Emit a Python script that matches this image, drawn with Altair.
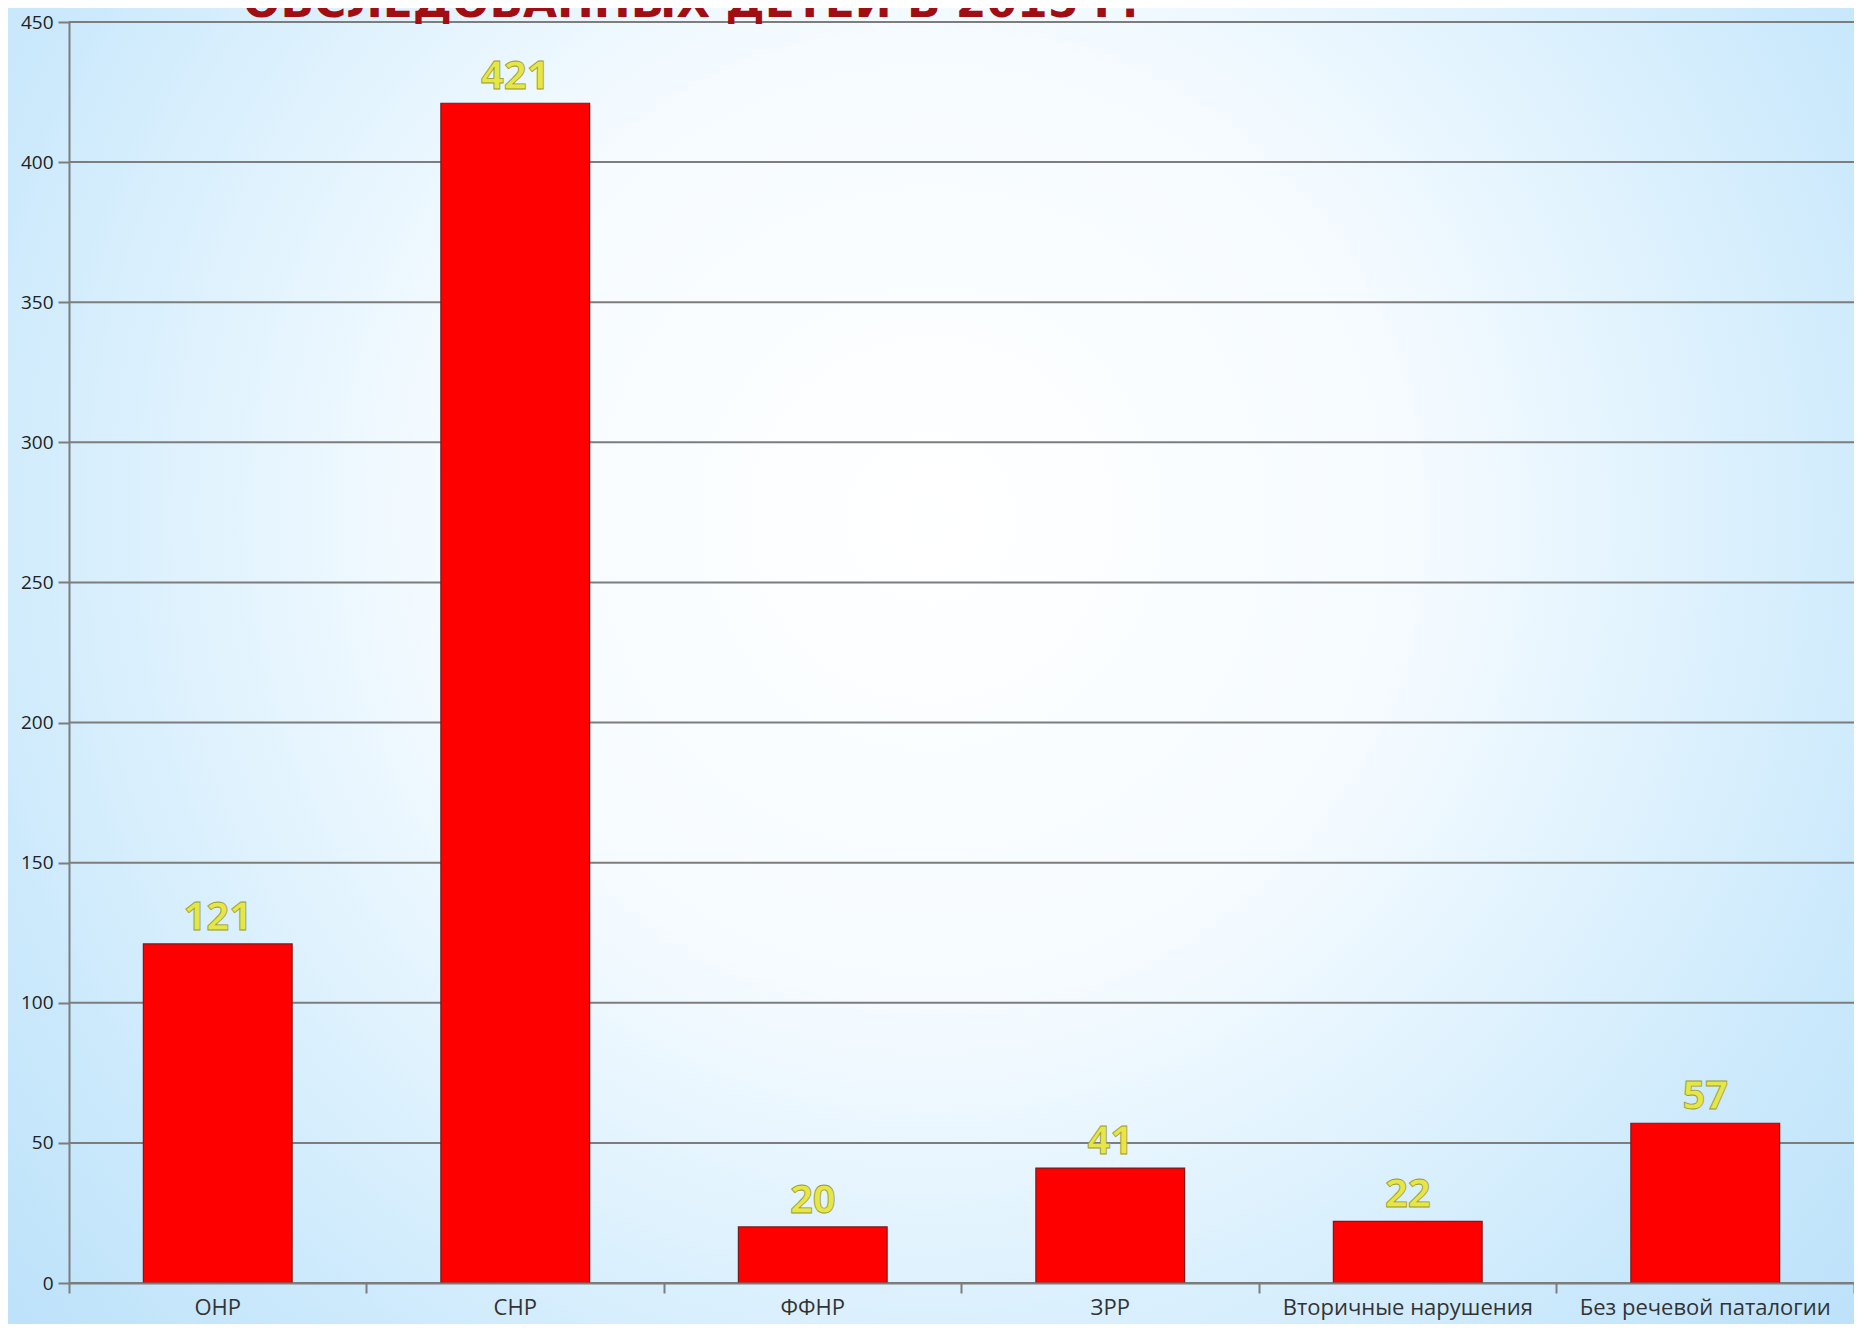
import altair as alt
import pandas as pd

categories = ["ОНР", "СНР", "ФФНР", "ЗРР", "Вторичные нарушения", "Без речевой паталогии"]
values = [121, 421, 20, 41, 22, 57]
y_ticks = [0, 50, 100, 150, 200, 250, 300, 350, 400, 450]
title_text = "ОБСЛЕДОВАННЫХ ДЕТЕЙ В 2015 Г."

W, H = 1785, 1261
PAD = {"left": 61, "top": 14, "right": 0, "bottom": 41}
FONT = "Open Sans"
GRID = "#7d7d7d"

df = pd.DataFrame({"cat": categories, "val": values})
grid_df = pd.DataFrame({"g": y_ticks})

bg_gradient = {
    "gradient": "radial",
    "x1": 0.5, "y1": 0.42, "x2": 0.5, "y2": 0.42,
    "r1": 0, "r2": 0.75,
    "stops": [
        {"offset": 0, "color": "#ffffff"},
        {"offset": 0.35, "color": "#f5fbff"},
        {"offset": 0.7, "color": "#cdeafc"},
        {"offset": 1, "color": "#b2dcf8"},
    ],
}

bg = alt.Chart(pd.DataFrame({"k": [0]})).mark_rect(fill=bg_gradient).encode(
    x=alt.value(-PAD["left"]),
    x2=alt.value(W + PAD["right"]),
    y=alt.value(-PAD["top"]),
    y2=alt.value(H + PAD["bottom"]),
)

title = alt.Chart(pd.DataFrame({"t": [title_text]})).mark_text(
    align="left", baseline="alphabetic", fontSize=44, fontWeight="bold",
    color="#a00d12", font="DejaVu Sans",
).encode(text="t:N", x=alt.value(174), y=alt.value(-5))

y_scale = alt.Scale(domain=[0, 450], nice=False)

grid = alt.Chart(grid_df).mark_rule(color=GRID, strokeWidth=2).encode(
    y=alt.Y("g:Q", scale=y_scale, title=None),
    x=alt.value(0), x2=alt.value(W),
)

x_enc = alt.X(
    "cat:N", sort=categories, title=None,
    scale=alt.Scale(paddingInner=0, paddingOuter=0),
    axis=alt.Axis(
        labelAngle=0, labelFont=FONT, labelFontSize=22, labelColor="#333333",
        labelPadding=4, labelLimit=0, tickSize=10, tickColor=GRID, tickWidth=2,
        domainColor=GRID, domainWidth=2, grid=False,
        bandPosition=1, tickExtra=True, zindex=2,
    ),
)
y_enc = alt.Y(
    "val:Q", title=None, scale=y_scale,
    axis=alt.Axis(
        values=y_ticks, labelFont=FONT, labelFontSize=19, labelColor="#222222",
        labelPadding=5, tickSize=11, tickColor=GRID, tickWidth=2,
        domainColor=GRID, domainWidth=2, grid=False, zindex=2,
    ),
)

bars = alt.Chart(df).mark_bar(
    width=alt.RelativeBandSize(0.5), color="#ff0000", stroke="#7a1a1a", strokeWidth=1.2,
).encode(x=x_enc, y=y_enc)

labels = alt.Chart(df).mark_text(
    baseline="alphabetic", dy=-14, fontSize=40, fontWeight="bold", font=FONT,
    fill="#e6e648", stroke="#9a9a30", strokeWidth=0.8,
).encode(x=alt.X("cat:N", sort=categories), y=alt.Y("val:Q"), text="val:Q")

chart = alt.layer(bg, grid, bars, labels, title).properties(
    width=W, height=H,
    autosize=alt.AutoSizeParams(type="none"),
    padding=PAD,
    background="#c2e4fb",
).configure_view(stroke=None)

chart.save("out.html", embed_options={"renderer": "svg", "actions": False})
